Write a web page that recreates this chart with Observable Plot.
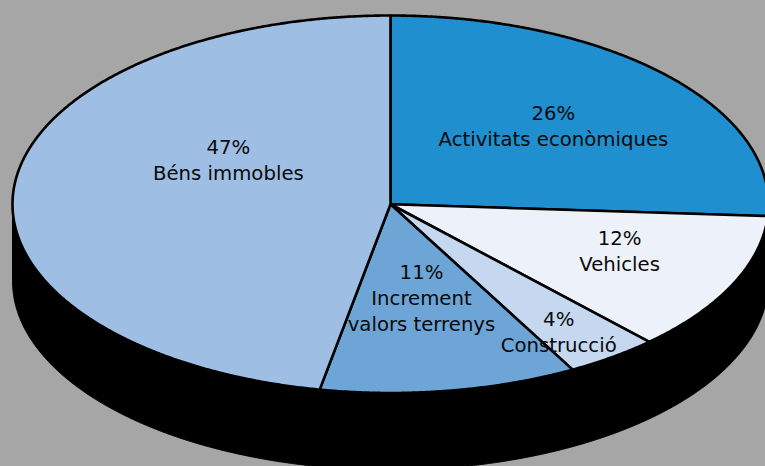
<!DOCTYPE html>
<html>
<head>
<meta charset="utf-8">
<script src="https://cdn.jsdelivr.net/npm/d3@7"></script>
<script src="https://cdn.jsdelivr.net/npm/@observablehq/plot@0.6"></script>
<style>
html,body{margin:0;padding:0;background:#a6a6a6;overflow:hidden}
</style>
</head>
<body>
<div id="chart"></div>
<script>
const categories = ["Activitats econòmiques", "Vehicles", "Construcció", "Increment\nvalors terrenys", "Béns immobles"];
const shares = [26, 12, 4, 11, 47];
const colors = ["#1f8fcf", "#edf1f9", "#c6d8ef", "#6ca5d6", "#9fbee3"];

// label placement, as fractions of the ellipse radii from its centre
const labelU = [0.431, 0.606, 0.445, 0.082, -0.429];
const labelV = [-0.420, 0.243, 0.672, 0.489, -0.240];
const depth = 0.408; // thickness of the disc, in y radii

const rim = (t, dy = 0) => ({u: Math.sin(t), v: -Math.cos(t) + dy});
const arc = (a, b, dy = 0) => {
  const n = Math.max(2, Math.ceil(Math.abs(b - a) / 0.005));
  return d3.range(n + 1).map(i => rim(a + (b - a) * i / n, dy));
};

let cum = 0;
const slicePts = [];
categories.forEach((name, i) => {
  const a = cum / 100 * 2 * Math.PI;
  cum += shares[i];
  const b = cum / 100 * 2 * Math.PI;
  const pts = [{u: 0, v: 0}, ...arc(a, b), {u: 0, v: 0}];
  pts.forEach(p => slicePts.push({...p, name}));
});

const sidePts = [
  ...arc(Math.PI / 2, 3 * Math.PI / 2),
  ...arc(3 * Math.PI / 2, Math.PI / 2, depth)
];
sidePts.push(sidePts[0]);

const labels = categories.map((name, i) => ({
  u: labelU[i], v: labelV[i],
  text: `${shares[i]}%\n${name}`
}));

const chart = Plot.plot({
  width: 765, height: 466,
  margin: 0,
  style: {background: "transparent", overflow: "hidden"},
  x: {axis: null, domain: [-1, 1], range: [12, 768]},
  y: {axis: null, domain: [-1, 1], range: [15, 392.5]},
  color: {domain: categories, range: colors},
  marks: [
    Plot.line(sidePts, {x: "u", y: "v", fill: "#000", stroke: "#000", strokeWidth: 1}),
    Plot.line(slicePts, {
      x: "u", y: "v", z: "name", fill: "name",
      stroke: "#000", strokeWidth: 2.6, strokeLinejoin: "round"
    }),
    Plot.text(labels, {
      x: "u", y: "v", text: "text",
      fontFamily: "DejaVu Sans", fontSize: 19.7, lineHeight: 1.32,
      fill: "#0a0a0a", lineAnchor: "middle", textAnchor: "middle"
    })
  ]
});
document.getElementById("chart").appendChild(chart);
</script>
</body>
</html>
